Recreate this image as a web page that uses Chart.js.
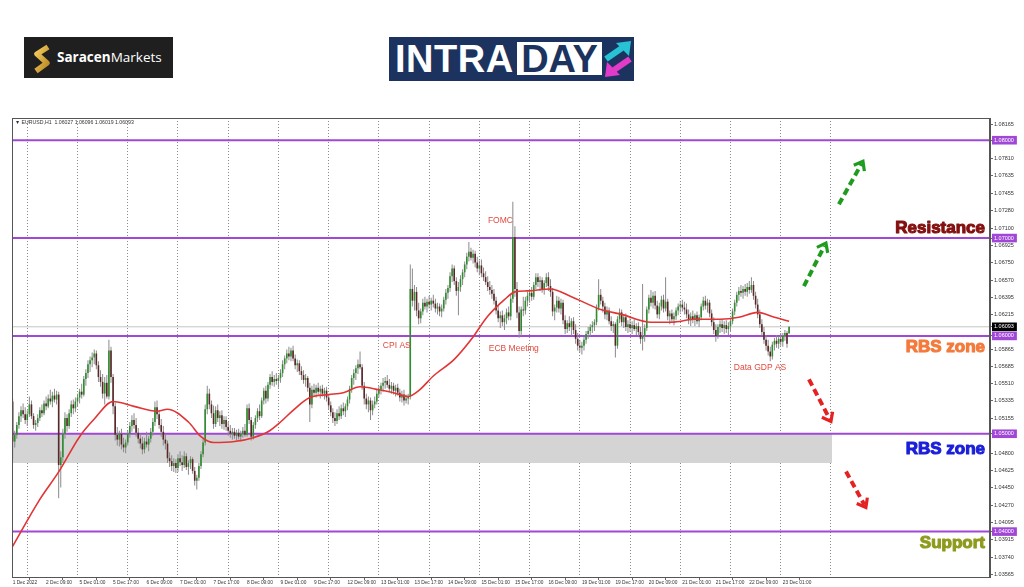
<!DOCTYPE html>
<html>
<head>
<meta charset="utf-8">
<title>EURUSD H1 - Intraday</title>
<script src="https://cdn.jsdelivr.net/npm/chart.js@4.4.1/dist/chart.umd.min.js"></script>
<style>
  html, body { margin: 0; padding: 0; background: #fff; }
  #page { position: relative; width: 1024px; height: 587px; overflow: hidden; }
  #chart { position: absolute; left: 0; top: 0; }
  #saracen { position: absolute; left: 24px; top: 37px; width: 149px; height: 41px; background: #1f1f1f; }
  #saracen svg { position: absolute; left: 9px; top: 7px; }
  #saracen .name { position: absolute; left: 33px; top: 11px; font: 13.5px "Open Sans", sans-serif; line-height: 18px; color: #fff; white-space: nowrap; }
  #saracen b { font-weight: 700; }
  #intraday { position: absolute; left: 389px; top: 37px; width: 245px; height: 44px; background: #1c335f; }
  #intraday .intra { position: absolute; left: 6px; top: 0; font: 700 38px "Liberation Sans", Arial, sans-serif; line-height: 44px; color: #fff; letter-spacing: 0.5px; }
  #intraday .day { position: absolute; left: 128px; top: 5px; width: 85px; height: 33px; background: #fff; color: #1c335f; font: 700 38px "Liberation Sans", Arial, sans-serif; line-height: 34px; text-align: center; }
  #intraday svg { position: absolute; left: 214px; top: 3px; }
</style>
</head>
<body>
<div id="page">
  <canvas id="chart" width="1024" height="587"></canvas>
  <div id="saracen">
    <svg width="18" height="30" viewBox="0 0 18 30">
      <defs>
        <linearGradient id="gold" x1="0" y1="0" x2="1" y2="1">
          <stop offset="0" stop-color="#f7cf62"/>
          <stop offset="1" stop-color="#b9841f"/>
        </linearGradient>
      </defs>
      <polyline points="15,3 4,10 14,19 3,27" fill="none" stroke="url(#gold)" stroke-width="5.5" stroke-linejoin="round"/>
    </svg>
    <span class="name"><b>Saracen</b>Markets</span>
  </div>
  <div id="intraday">
    <span class="intra">INTRA</span>
    <span class="day">DAY</span>
    <svg width="30" height="38" viewBox="0 0 30 38">
      <line x1="3" y1="19" x2="19" y2="8" stroke="#27c3d4" stroke-width="6"/>
      <polygon points="28,1 13,3 26,16" fill="#27c3d4"/>
      <line x1="27" y1="19" x2="11" y2="30" stroke="#e23bc9" stroke-width="6"/>
      <polygon points="2,37 17,35 4,22" fill="#e23bc9"/>
    </svg>
  </div>
</div>
<script>
// EURUSD H1, 1 Dec 17:00 -> 23 Dec 03:00 (one row per trading day)
const opens = [
  1.0533,1.0492,1.0499,1.0509,1.0518,1.0524,1.0520,
  1.0514,1.0520,1.0530,1.0518,1.0509,1.0511,1.0516,1.0524,1.0521,1.0531,1.0528,1.0536,1.0533,1.0539,1.0535,1.0540,1.0468,1.0476,1.0500,1.0516,1.0508,1.0521,1.0530,1.0526,
  1.0533,1.0537,1.0543,1.0540,1.0556,1.0562,1.0571,1.0575,1.0578,1.0582,1.0570,1.0558,1.0553,1.0541,1.0552,1.0538,1.0585,1.0558,1.0528,1.0499,1.0494,1.0500,1.0489,1.0486,
  1.0491,1.0500,1.0508,1.0514,1.0509,1.0501,1.0495,1.0490,1.0484,1.0492,1.0489,1.0495,1.0502,1.0512,1.0527,1.0520,1.0509,1.0502,1.0494,1.0490,1.0475,1.0472,1.0467,1.0470,
  1.0465,1.0475,1.0471,1.0468,1.0477,1.0466,1.0470,1.0474,1.0462,1.0452,1.0455,1.0467,1.0479,1.0491,1.0525,1.0541,1.0530,1.0521,1.0510,1.0524,1.0516,1.0519,1.0510,1.0514,
  1.0507,1.0503,1.0500,1.0502,1.0498,1.0501,1.0497,1.0500,1.0503,1.0499,1.0526,1.0514,1.0497,1.0509,1.0516,1.0523,1.0518,1.0534,1.0544,1.0536,1.0550,1.0558,1.0553,1.0556,
  1.0554,1.0557,1.0562,1.0571,1.0577,1.0582,1.0579,1.0585,1.0577,1.0570,1.0572,1.0564,1.0560,1.0555,1.0557,1.0547,1.0530,1.0545,1.0542,1.0547,1.0543,1.0546,1.0541,1.0544,
  1.0537,1.0529,1.0522,1.0516,1.0513,1.0521,1.0518,1.0526,1.0523,1.0528,1.0535,1.0546,1.0557,1.0562,1.0567,1.0571,1.0568,1.0549,1.0536,1.0530,1.0534,1.0524,1.0530,1.0533,
  1.0541,1.0545,1.0549,1.0552,1.0554,1.0550,1.0546,1.0549,1.0544,1.0547,1.0542,1.0537,1.0540,1.0534,1.0536,1.0538,1.0648,1.0636,1.0645,1.0626,1.0618,1.0625,1.0634,1.0630,
  1.0635,1.0632,1.0636,1.0633,1.0628,1.0630,1.0625,1.0628,1.0637,1.0644,1.0649,1.0661,1.0669,1.0656,1.0646,1.0650,1.0658,1.0665,1.0673,1.0681,1.0686,1.0680,1.0684,1.0675,
  1.0669,1.0672,1.0664,1.0660,1.0655,1.0650,1.0647,1.0643,1.0636,1.0626,1.0618,1.0621,1.0614,1.0618,1.0624,1.0620,1.0638,1.0701,1.0648,1.0624,1.0605,1.0627,1.0626,1.0636,
  1.0641,1.0644,1.0640,1.0652,1.0660,1.0655,1.0657,1.0648,1.0654,1.0660,1.0651,1.0645,1.0625,1.0629,1.0636,1.0628,1.0634,1.0616,1.0607,1.0613,1.0609,1.0615,1.0606,1.0597,
  1.0590,1.0588,1.0590,1.0596,1.0602,1.0605,1.0609,1.0611,1.0614,1.0629,1.0642,1.0636,1.0630,1.0622,1.0626,1.0615,1.0610,1.0612,1.0590,1.0617,1.0624,1.0614,1.0619,1.0609,
  1.0612,1.0608,1.0611,1.0607,1.0610,1.0604,1.0597,1.0600,1.0608,1.0627,1.0639,1.0634,1.0641,1.0631,1.0622,1.0630,1.0637,1.0628,1.0635,1.0620,1.0623,1.0617,1.0620,1.0626,
  1.0630,1.0632,1.0629,1.0627,1.0622,1.0616,1.0620,1.0617,1.0621,1.0615,1.0619,1.0630,1.0636,1.0631,1.0634,1.0623,1.0614,1.0606,1.0600,1.0609,1.0612,1.0608,1.0611,1.0607,
  1.0610,1.0615,1.0625,1.0634,1.0642,1.0646,1.0644,1.0648,1.0645,1.0650,1.0647,1.0652,1.0641,1.0632,1.0622,1.0612,1.0604,1.0596,1.0590,1.0584,1.0579,1.0591,1.0595,1.0592,
  1.0597,1.0594,1.0600,1.0603,1.06027
];
const highs = [
  1.0536,1.0503,1.0512,1.0522,1.0528,1.0531,1.0527,
  1.0524,1.0538,1.0534,1.0521,1.0514,1.0520,1.0527,1.0530,1.0534,1.0538,1.0540,1.0545,1.0543,1.0546,1.0544,1.0543,1.0482,1.0505,1.0522,1.0520,1.0525,1.0534,1.0535,1.0537,
  1.0541,1.0546,1.0551,1.0559,1.0566,1.0575,1.0579,1.0583,1.0586,1.0585,1.0574,1.0565,1.0561,1.0558,1.0560,1.0596,1.0589,1.0561,1.0532,1.0507,1.0503,1.0505,1.0496,1.0494,
  1.0503,1.0512,1.0519,1.0521,1.0516,1.0506,1.0500,1.0497,1.0496,1.0502,1.0498,1.0506,1.0516,1.0533,1.0534,1.0524,1.0515,1.0508,1.0499,1.0493,1.0481,1.0478,1.0475,1.0474,
  1.0479,1.0482,1.0478,1.0482,1.0480,1.0473,1.0477,1.0476,1.0466,1.0458,1.0470,1.0482,1.0495,1.0530,1.0549,1.0546,1.0534,1.0529,1.0528,1.0530,1.0523,1.0524,1.0518,1.0518,
  1.0512,1.0509,1.0506,1.0506,1.0504,1.0505,1.0503,1.0507,1.0510,1.0530,1.0531,1.0517,1.0512,1.0519,1.0526,1.0530,1.0537,1.0547,1.0549,1.0553,1.0561,1.0564,1.0560,1.0562,
  1.0560,1.0566,1.0575,1.0580,1.0586,1.0589,1.0588,1.0590,1.0581,1.0576,1.0575,1.0569,1.0565,1.0561,1.0559,1.0552,1.0549,1.0551,1.0550,1.0552,1.0549,1.0550,1.0547,1.0548,
  1.0540,1.0533,1.0526,1.0522,1.0525,1.0528,1.0530,1.0532,1.0531,1.0538,1.0549,1.0560,1.0566,1.0570,1.0576,1.0584,1.0571,1.0553,1.0541,1.0538,1.0537,1.0534,1.0538,1.0545,
  1.0549,1.0552,1.0557,1.0558,1.0560,1.0556,1.0553,1.0552,1.0550,1.0551,1.0546,1.0544,1.0545,1.0540,1.0541,1.0673,1.0669,1.0652,1.0650,1.0634,1.0628,1.0638,1.0640,1.0638,
  1.0641,1.0639,1.0642,1.0638,1.0634,1.0633,1.0632,1.0640,1.0648,1.0652,1.0665,1.0673,1.0672,1.0660,1.0655,1.0662,1.0668,1.0676,1.0685,1.0696,1.0690,1.0688,1.0687,1.0681,
  1.0677,1.0678,1.0670,1.0666,1.0661,1.0656,1.0652,1.0648,1.0640,1.0631,1.0625,1.0626,1.0622,1.0628,1.0630,1.0642,1.0737,1.0712,1.0655,1.0630,1.0630,1.0640,1.0640,1.0645,
  1.0648,1.0650,1.0655,1.0664,1.0664,1.0661,1.0660,1.0657,1.0664,1.0665,1.0658,1.0649,1.0632,1.0641,1.0640,1.0638,1.0637,1.0621,1.0616,1.0620,1.0618,1.0619,1.0612,1.0603,
  1.0596,1.0594,1.0599,1.0605,1.0609,1.0612,1.0615,1.0617,1.0632,1.0658,1.0648,1.0640,1.0634,1.0630,1.0629,1.0620,1.0615,1.0614,1.0620,1.0628,1.0627,1.0622,1.0623,1.0616,
  1.0618,1.0615,1.0617,1.0613,1.0614,1.0609,1.0653,1.0612,1.0630,1.0642,1.0647,1.0645,1.0646,1.0636,1.0634,1.0641,1.0642,1.0660,1.0638,1.0626,1.0627,1.0624,1.0629,1.0633,
  1.0636,1.0637,1.0635,1.0633,1.0627,1.0624,1.0626,1.0623,1.0625,1.0622,1.0633,1.0640,1.0641,1.0638,1.0637,1.0627,1.0619,1.0612,1.0612,1.0616,1.0617,1.0615,1.0616,1.0614,
  1.0618,1.0628,1.0637,1.0645,1.0650,1.0652,1.0651,1.0653,1.0654,1.0656,1.0660,1.0656,1.0645,1.0638,1.0627,1.0617,1.0609,1.0601,1.0596,1.0589,1.0594,1.0598,1.0601,1.0600,
  1.0603,1.0603,1.0606,1.0605,1.06096
];
const lows = [
  1.0474,1.0486,1.0495,1.0505,1.0512,1.0516,1.0510,
  1.0508,1.0517,1.0515,1.0505,1.0503,1.0507,1.0513,1.0517,1.0519,1.0524,1.0526,1.0530,1.0527,1.0532,1.0530,1.0434,1.0445,1.0470,1.0495,1.0502,1.0505,1.0517,1.0520,1.0522,
  1.0528,1.0531,1.0536,1.0538,1.0549,1.0557,1.0563,1.0568,1.0571,1.0566,1.0553,1.0548,1.0536,1.0530,1.0536,1.0535,1.0552,1.0520,1.0493,1.0488,1.0487,1.0484,1.0481,1.0480,
  1.0488,1.0496,1.0502,1.0505,1.0497,1.0490,1.0485,1.0479,1.0480,1.0486,1.0482,1.0491,1.0498,1.0508,1.0515,1.0505,1.0497,1.0488,1.0484,1.0470,1.0466,1.0462,1.0461,1.0460,
  1.0461,1.0467,1.0462,1.0465,1.0463,1.0458,1.0464,1.0459,1.0447,1.0443,1.0452,1.0464,1.0476,1.0488,1.0520,1.0525,1.0516,1.0505,1.0507,1.0512,1.0508,1.0505,1.0504,1.0503,
  1.0498,1.0496,1.0494,1.0495,1.0493,1.0494,1.0492,1.0496,1.0497,1.0497,1.0510,1.0493,1.0494,1.0505,1.0512,1.0514,1.0516,1.0530,1.0531,1.0533,1.0546,1.0549,1.0548,1.0550,
  1.0547,1.0552,1.0558,1.0566,1.0572,1.0575,1.0574,1.0574,1.0566,1.0563,1.0560,1.0555,1.0551,1.0548,1.0543,1.0512,1.0526,1.0539,1.0537,1.0540,1.0536,1.0538,1.0535,1.0533,
  1.0525,1.0518,1.0511,1.0508,1.0510,1.0514,1.0515,1.0519,1.0517,1.0524,1.0531,1.0542,1.0550,1.0555,1.0561,1.0566,1.0545,1.0530,1.0525,1.0522,1.0514,1.0519,1.0526,1.0530,
  1.0537,1.0540,1.0543,1.0546,1.0547,1.0543,1.0541,1.0540,1.0538,1.0539,1.0533,1.0532,1.0529,1.0531,1.0530,1.0535,1.0630,1.0626,1.0620,1.0612,1.0613,1.0621,1.0627,1.0624,
  1.0628,1.0626,1.0629,1.0624,1.0622,1.0620,1.0619,1.0625,1.0632,1.0638,1.0645,1.0655,1.0652,1.0641,1.0621,1.0645,1.0652,1.0660,1.0668,1.0676,1.0677,1.0674,1.0670,1.0665,
  1.0662,1.0660,1.0656,1.0652,1.0646,1.0642,1.0638,1.0632,1.0622,1.0614,1.0608,1.0610,1.0606,1.0612,1.0616,1.0616,1.0634,1.0640,1.0618,1.0598,1.0600,1.0620,1.0622,1.0630,
  1.0634,1.0636,1.0637,1.0648,1.0650,1.0646,1.0644,1.0642,1.0650,1.0646,1.0640,1.0620,1.0616,1.0624,1.0624,1.0622,1.0612,1.0602,1.0603,1.0605,1.0600,1.0602,1.0592,1.0585,
  1.0583,1.0581,1.0585,1.0592,1.0597,1.0600,1.0603,1.0605,1.0611,1.0626,1.0632,1.0624,1.0617,1.0616,1.0612,1.0605,1.0603,1.0578,1.0587,1.0613,1.0610,1.0608,1.0605,1.0603,
  1.0604,1.0602,1.0605,1.0601,1.0600,1.0592,1.0585,1.0594,1.0605,1.0623,1.0630,1.0628,1.0627,1.0618,1.0617,1.0626,1.0624,1.0625,1.0616,1.0612,1.0614,1.0611,1.0616,1.0621,
  1.0624,1.0625,1.0622,1.0618,1.0612,1.0610,1.0613,1.0610,1.0612,1.0609,1.0616,1.0626,1.0627,1.0624,1.0619,1.0610,1.0602,1.0594,1.0597,1.0603,1.0604,1.0602,1.0603,1.0601,
  1.0605,1.0612,1.0621,1.0630,1.0636,1.0640,1.0638,1.0641,1.0640,1.0643,1.0644,1.0637,1.0628,1.0618,1.0608,1.0600,1.0592,1.0585,1.0580,1.0574,1.0576,1.0585,1.0588,1.0587,
  1.0590,1.0589,1.0595,1.0588,1.06019
];
const closes = [
  1.0492,1.0499,1.0509,1.0518,1.0524,1.0520,1.0514,
  1.0520,1.0530,1.0518,1.0509,1.0511,1.0516,1.0524,1.0521,1.0531,1.0528,1.0536,1.0533,1.0539,1.0535,1.0540,1.0468,1.0476,1.0500,1.0516,1.0508,1.0521,1.0530,1.0526,1.0533,
  1.0537,1.0543,1.0540,1.0556,1.0562,1.0571,1.0575,1.0578,1.0582,1.0570,1.0558,1.0553,1.0541,1.0552,1.0538,1.0585,1.0558,1.0528,1.0499,1.0494,1.0500,1.0489,1.0486,1.0491,
  1.0500,1.0508,1.0514,1.0509,1.0501,1.0495,1.0490,1.0484,1.0492,1.0489,1.0495,1.0502,1.0512,1.0527,1.0520,1.0509,1.0502,1.0494,1.0490,1.0475,1.0472,1.0467,1.0470,1.0465,
  1.0475,1.0471,1.0468,1.0477,1.0466,1.0470,1.0474,1.0462,1.0452,1.0455,1.0467,1.0479,1.0491,1.0525,1.0541,1.0530,1.0521,1.0510,1.0524,1.0516,1.0519,1.0510,1.0514,1.0507,
  1.0503,1.0500,1.0502,1.0498,1.0501,1.0497,1.0500,1.0503,1.0499,1.0526,1.0514,1.0497,1.0509,1.0516,1.0523,1.0518,1.0534,1.0544,1.0536,1.0550,1.0558,1.0553,1.0556,1.0554,
  1.0557,1.0562,1.0571,1.0577,1.0582,1.0579,1.0585,1.0577,1.0570,1.0572,1.0564,1.0560,1.0555,1.0557,1.0547,1.0530,1.0545,1.0542,1.0547,1.0543,1.0546,1.0541,1.0544,1.0537,
  1.0529,1.0522,1.0516,1.0513,1.0521,1.0518,1.0526,1.0523,1.0528,1.0535,1.0546,1.0557,1.0562,1.0567,1.0571,1.0568,1.0549,1.0536,1.0530,1.0534,1.0524,1.0530,1.0533,1.0541,
  1.0545,1.0549,1.0552,1.0554,1.0550,1.0546,1.0549,1.0544,1.0547,1.0542,1.0537,1.0540,1.0534,1.0536,1.0538,1.0648,1.0636,1.0645,1.0626,1.0618,1.0625,1.0634,1.0630,1.0635,
  1.0632,1.0636,1.0633,1.0628,1.0630,1.0625,1.0628,1.0637,1.0644,1.0649,1.0661,1.0669,1.0656,1.0646,1.0650,1.0658,1.0665,1.0673,1.0681,1.0686,1.0680,1.0684,1.0675,1.0669,
  1.0672,1.0664,1.0660,1.0655,1.0650,1.0647,1.0643,1.0636,1.0626,1.0618,1.0621,1.0614,1.0618,1.0624,1.0620,1.0638,1.0701,1.0648,1.0624,1.0605,1.0627,1.0626,1.0636,1.0641,
  1.0644,1.0640,1.0652,1.0660,1.0655,1.0657,1.0648,1.0654,1.0660,1.0651,1.0645,1.0625,1.0629,1.0636,1.0628,1.0634,1.0616,1.0607,1.0613,1.0609,1.0615,1.0606,1.0597,1.0590,
  1.0588,1.0590,1.0596,1.0602,1.0605,1.0609,1.0611,1.0614,1.0629,1.0642,1.0636,1.0630,1.0622,1.0626,1.0615,1.0610,1.0612,1.0590,1.0617,1.0624,1.0614,1.0619,1.0609,1.0612,
  1.0608,1.0611,1.0607,1.0610,1.0604,1.0597,1.0600,1.0608,1.0627,1.0639,1.0634,1.0641,1.0631,1.0622,1.0630,1.0637,1.0628,1.0635,1.0620,1.0623,1.0617,1.0620,1.0626,1.0630,
  1.0632,1.0629,1.0627,1.0622,1.0616,1.0620,1.0617,1.0621,1.0615,1.0619,1.0630,1.0636,1.0631,1.0634,1.0623,1.0614,1.0606,1.0600,1.0609,1.0612,1.0608,1.0611,1.0607,1.0610,
  1.0615,1.0625,1.0634,1.0642,1.0646,1.0644,1.0648,1.0645,1.0650,1.0647,1.0652,1.0641,1.0632,1.0622,1.0612,1.0604,1.0596,1.0590,1.0584,1.0579,1.0591,1.0595,1.0592,1.0597,
  1.0594,1.0600,1.0603,1.0592,1.06093
];

// red moving average at these bar numbers
const maBars = [0, 13, 22, 32, 39, 48, 58, 69, 74, 84, 90, 96, 106, 115, 122, 128, 134, 142, 151, 158, 166, 175, 182, 189, 194, 201, 211, 219, 227, 235, 240, 246, 257, 267, 281, 291, 305, 315, 326, 338, 347, 356, 364, 371];
const maValues = [1.0385, 1.0433, 1.0461, 1.0497, 1.0515, 1.0533, 1.0528, 1.0523, 1.0525, 1.0512, 1.0497, 1.0491, 1.0492, 1.0496, 1.0502, 1.0512, 1.0524, 1.0537, 1.0540, 1.0542, 1.0548, 1.0545, 1.0542, 1.0538, 1.0544, 1.0559, 1.0576, 1.0596, 1.0620, 1.0637, 1.0645, 1.0646, 1.0648, 1.0640, 1.0627, 1.0622, 1.0614, 1.0614, 1.0617, 1.0617, 1.0619, 1.0624, 1.0619, 1.0615];

const levelPrices = [1.08, 1.07, 1.06, 1.05, 1.04];
const bidPrice = 1.06093;
const zoneTop = 1.05;
const zoneBottom = 1.0470;
const zoneEndBar = 391.5;

const yTicks = [1.08165, 1.07810, 1.07635, 1.07455, 1.07280, 1.07100, 1.06925, 1.06750, 1.06570, 1.06395, 1.06215,
  1.05865, 1.05685, 1.05510, 1.05335, 1.05155, 1.04800, 1.04625, 1.04450, 1.04270, 1.04095, 1.03915, 1.03740, 1.03565];

const xLabelBars = [0, 16, 32, 48, 64, 80, 96, 112, 128, 144, 160, 176, 192, 208, 224, 240, 256, 272, 288, 304, 320, 336, 352, 368];
const xLabels = ['1 Dec 2022', '2 Dec 09:00', '5 Dec 01:00', '5 Dec 17:00', '6 Dec 09:00', '7 Dec 01:00', '7 Dec 17:00', '8 Dec 09:00',
  '9 Dec 01:00', '9 Dec 17:00', '12 Dec 09:00', '13 Dec 01:00', '13 Dec 17:00', '14 Dec 09:00', '15 Dec 01:00', '15 Dec 17:00',
  '16 Dec 09:00', '19 Dec 01:00', '19 Dec 17:00', '20 Dec 09:00', '21 Dec 01:00', '21 Dec 17:00', '22 Dec 09:00', '23 Dec 01:00'];
const dayStarts = [7, 31, 55, 79, 103, 127, 151, 175, 199, 223, 247, 271, 295, 319, 343, 367, 391];

const eventLabels = ['FOMC', 'CPI AS', 'ECB Meeting', 'Data GDP AS'];
const eventBars = [227.1, 176.9, 227.5, 344.6];
const eventPrices = [1.07182, 1.05898, 1.05872, 1.05678];

const zoneLabels = ['Resistance', 'RBS zone', 'RBS zone', 'Support'];
const zonePrices = [1.07049, 1.05831, 1.04788, 1.03836];
const zoneColors = ['#841010', '#f47a3c', '#1b1fd8', '#8e9b1d'];

const arrowFromBars = [394.8, 378.1, 380.5, 398.2];
const arrowFromPrices = [1.07345, 1.06509, 1.05555, 1.04614];
const arrowToBars = [406.3, 388.6, 391.0, 407.7];
const arrowToPrices = [1.07785, 1.06949, 1.05125, 1.04246];
const arrowColors = ['#1f9c1f', '#1f9c1f', '#e52222', '#e52222'];

const headerText = '\u25BC EURUSD,H1  1.06027 1.06096 1.06019 1.06093';

const axisTicks = yTicks.concat(levelPrices, [bidPrice]).sort((a, b) => b - a);
const isLevel = v => levelPrices.includes(v) || v === bidPrice;

const bodies = opens.map((o, i) => ({ x: i, y: [o, closes[i]] }));
const wicks = lows.map((l, i) => ({ x: i, y: [l, highs[i]] }));
const bodyColors = opens.map((o, i) => (closes[i] >= o ? '#2f8c2f' : '#5a2626'));

function hline(price, color, width, order, x0, x1) {
  return {
    type: 'line', data: [{ x: x0, y: price }, { x: x1, y: price }],
    borderColor: color, borderWidth: width, pointRadius: 0, order: order
  };
}

function drawArrow(ctx, x1, y1, x2, y2, color) {
  const ang = Math.atan2(y2 - y1, x2 - x1);
  ctx.strokeStyle = color;
  ctx.lineCap = 'butt';
  ctx.lineWidth = 4;
  ctx.setLineDash([7, 4]);
  ctx.beginPath();
  ctx.moveTo(x1, y1);
  ctx.lineTo(x2 - 3 * Math.cos(ang), y2 - 3 * Math.sin(ang));
  ctx.stroke();
  ctx.setLineDash([]);
  ctx.lineWidth = 3.2;
  ctx.lineJoin = 'miter';
  ctx.beginPath();
  ctx.moveTo(x2 - 10 * Math.cos(ang - 0.65), y2 - 10 * Math.sin(ang - 0.65));
  ctx.lineTo(x2, y2);
  ctx.lineTo(x2 - 10 * Math.cos(ang + 0.65), y2 - 10 * Math.sin(ang + 0.65));
  ctx.stroke();
}

const overlay = {
  id: 'overlay',
  afterDatasetsDraw(chart) {
    const { ctx, chartArea: a, scales: { x, y } } = chart;
    ctx.save();
    ctx.beginPath();
    ctx.rect(a.left, a.top, a.right - a.left, a.bottom - a.top);
    ctx.clip();

    ctx.font = '8.5px "Liberation Sans", Arial, sans-serif';
    ctx.fillStyle = '#e4483d';
    ctx.textAlign = 'left';
    ctx.textBaseline = 'middle';
    eventLabels.forEach((t, i) => {
      ctx.fillText(t, x.getPixelForValue(eventBars[i]), y.getPixelForValue(eventPrices[i]));
    });

    ctx.font = 'bold 17px "Liberation Sans", Arial, sans-serif';
    ctx.textAlign = 'right';
    ctx.textBaseline = 'alphabetic';
    ctx.lineWidth = 1.1;
    ctx.lineJoin = 'round';
    zoneLabels.forEach((t, i) => {
      const py = y.getPixelForValue(zonePrices[i]);
      ctx.fillStyle = zoneColors[i];
      ctx.strokeStyle = zoneColors[i];
      ctx.fillText(t, a.right - 5, py);
      ctx.strokeText(t, a.right - 5, py);
    });

    arrowColors.forEach((c, i) => {
      drawArrow(ctx,
        x.getPixelForValue(arrowFromBars[i]), y.getPixelForValue(arrowFromPrices[i]),
        x.getPixelForValue(arrowToBars[i]), y.getPixelForValue(arrowToPrices[i]), c);
    });

    ctx.font = '5.2px "Liberation Sans", "DejaVu Sans", sans-serif';
    ctx.fillStyle = '#333';
    ctx.textAlign = 'left';
    ctx.textBaseline = 'middle';
    ctx.fillText(headerText, a.left + 3, a.top + 5);
    ctx.restore();
  },
  afterDraw(chart) {
    const { ctx, chartArea: a } = chart;
    ctx.save();
    ctx.strokeStyle = '#555';
    ctx.lineWidth = 1;
    ctx.strokeRect(a.left + 0.5, a.top + 0.5, a.right - a.left - 1, a.bottom - a.top);
    ctx.restore();
  }
};

const xMin = -0.3, xMax = 467;

const datasets = [
  {
    type: 'line', data: maBars.map((b, i) => ({ x: b, y: maValues[i] })),
    borderColor: '#e23434', borderWidth: 1.6, pointRadius: 0, cubicInterpolationMode: 'monotone', order: 1
  },
  {
    type: 'bar', data: bodies, backgroundColor: bodyColors, barThickness: 1.6,
    grouped: false, minBarLength: 1, inflateAmount: 0, order: 2
  },
  {
    type: 'bar', data: wicks, backgroundColor: '#8a8a8a', barThickness: 1,
    grouped: false, inflateAmount: 0, order: 3
  },
  hline(bidPrice, '#c4c4c4', 1, 4, xMin, xMax)
];
levelPrices.forEach(p => datasets.push(hline(p, '#a047d8', 2, 5, xMin, xMax)));
datasets.push({
  type: 'line', data: [{ x: xMin, y: zoneTop }, { x: zoneEndBar, y: zoneTop }],
  borderWidth: 0, pointRadius: 0, backgroundColor: '#d4d4d4', fill: '+1', order: 9
});
datasets.push({
  type: 'line', data: [{ x: xMin, y: zoneBottom }, { x: zoneEndBar, y: zoneBottom }],
  borderWidth: 0, pointRadius: 0, order: 10
});

const yFont = { size: 5.5, family: '"Liberation Sans", Arial, sans-serif' };
const xFont = { size: 4.8, family: '"Liberation Sans", Arial, sans-serif' };

new Chart(document.getElementById('chart').getContext('2d'), {
  type: 'line',
  data: { datasets: datasets },
  options: {
    responsive: false,
    animation: false,
    devicePixelRatio: 1,
    events: [],
    layout: { padding: { left: 12, top: 118, right: 0, bottom: 0 } },
    plugins: { legend: { display: false }, tooltip: { enabled: false } },
    scales: {
      x: {
        type: 'linear', min: xMin, max: xMax, offset: false, position: 'bottom',
        afterBuildTicks: s => { s.ticks = xLabelBars.map(v => ({ value: v })); },
        afterFit: s => { s.height = 10; },
        ticks: {
          autoSkip: false, maxRotation: 0, minRotation: 0, align: 'start', padding: 0,
          color: '#333', font: xFont, callback: (v, i) => xLabels[i]
        },
        grid: { drawOnChartArea: false, drawTicks: true, tickLength: 3, color: '#666' },
        border: { display: true, color: '#555' }
      },
      xg: {
        type: 'linear', min: xMin, max: xMax, offset: false, position: 'bottom',
        afterBuildTicks: s => { s.ticks = dayStarts.map(v => ({ value: v })); },
        afterFit: s => { s.height = 0; },
        ticks: { display: false },
        grid: { drawOnChartArea: true, drawTicks: false, color: '#8a8a8a', lineWidth: 1 },
        border: { display: false, dash: [1, 2] }
      },
      y: {
        type: 'linear', position: 'right', min: 1.03536, max: 1.08227,
        afterBuildTicks: s => { s.ticks = axisTicks.map(v => ({ value: v })); },
        afterFit: s => { s.width = 34; },
        ticks: {
          autoSkip: false, padding: 1, font: yFont,
          callback: v => v.toFixed(5),
          color: ctx => (isLevel(ctx.tick.value) ? '#fff' : '#333'),
          showLabelBackdrop: ctx => isLevel(ctx.tick.value),
          backdropColor: ctx => (ctx.tick.value === bidPrice ? '#000' : '#a047d8'),
          backdropPadding: { top: 1, bottom: 1, left: 2, right: 3 }
        },
        grid: { drawOnChartArea: false, drawTicks: true, tickLength: 3, color: '#666' },
        border: { display: true, color: '#555' }
      }
    }
  },
  plugins: [overlay]
});
</script>
</body>
</html>
